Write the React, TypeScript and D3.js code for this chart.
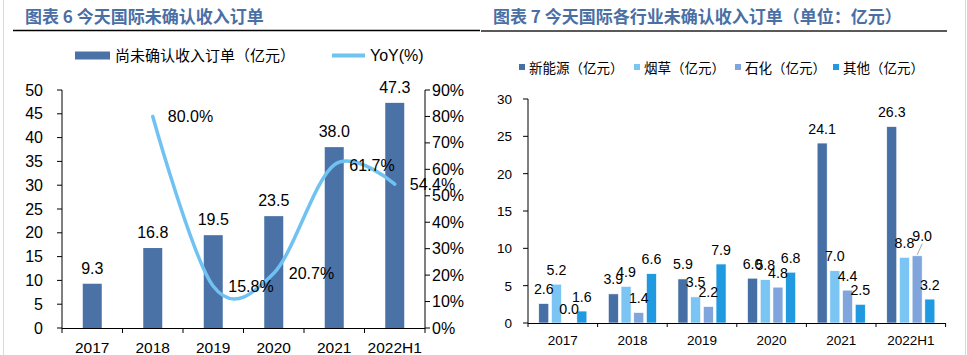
import React from "react";
import * as d3 from "d3";

const years = ["2017", "2018", "2019", "2020", "2021", "2022H1"];
const orders = [9.3, 16.8, 19.5, 23.5, 38.0, 47.3];
const yoyYears = ["2018", "2019", "2020", "2021", "2022H1"];
const yoy = [80.0, 15.8, 20.7, 61.7, 54.4];
const leftTicks = [0, 5, 10, 15, 20, 25, 30, 35, 40, 45, 50];
const rightPctTicks = [0, 10, 20, 30, 40, 50, 60, 70, 80, 90];

const industries = ["新能源（亿元）", "烟草（亿元）", "石化（亿元）", "其他（亿元）"];
const newEnergy = [2.6, 3.9, 5.9, 6.0, 24.1, 26.3];
const tobacco = [5.2, 4.9, 3.5, 5.8, 7.0, 8.8];
const petro = [0.0, 1.4, 2.2, 4.8, 4.4, 9.0];
const others = [1.6, 6.6, 7.9, 6.8, 2.5, 3.2];
const industryTicks = [0, 5, 10, 15, 20, 25, 30];

const BAR = "#4a72a6";
const LINE = "#70c2f2";
const COLORS = ["#4670a5", "#7ac5f3", "#7fa5dc", "#1f99e0"];
const TITLE = "#4a6fa5";
const CJK = "'Noto Sans CJK SC', sans-serif";
const LAT = "'Liberation Sans', Arial, sans-serif";

function LeftChart() {
  const x = d3.scaleBand<string>().domain(years).range([62, 425]).padding(0);
  const y = d3.scaleLinear().domain([0, 50]).range([328, 90]);
  const y2 = d3.scaleLinear().domain([0, 90]).range([328, 90]);
  const cx = (c: string) => (x(c) as number) + x.bandwidth() / 2;
  const line = d3
    .line<number>()
    .x((_, i) => cx(yoyYears[i]))
    .y((d) => y2(d))
    .curve(d3.curveCatmullRom.alpha(0));
  const bounds = [...years.map((c) => x(c) as number), 425];
  return (
    <g>
      <text x={25} y={23} fontFamily={CJK} fontWeight={700} fontSize={17} fill={TITLE}>
        图表 6 今天国际未确认收入订单
      </text>
      <line x1={13} x2={480} y1={30.5} y2={30.5} stroke="#000" strokeWidth={1.5} />
      {/* legend */}
      <rect x={75} y={51.5} width={35} height={8} fill={BAR} />
      <text x={115} y={60.5} fontFamily={CJK} fontSize={15} fill="#000">
        尚未确认收入订单（亿元）
      </text>
      <line x1={332} x2={365} y1={55.5} y2={55.5} stroke={LINE} strokeWidth={4} />
      <text x={370} y={61} fontFamily={LAT} fontSize={16} fill="#000">
        YoY(%)
      </text>
      {/* bars */}
      {orders.map((v, i) => (
        <g key={years[i]}>
          <rect x={cx(years[i]) - 9.5} y={y(v)} width={19} height={y(0) - y(v)} fill={BAR} />
          <text x={cx(years[i])} y={y(v) - 10} textAnchor="middle" fontFamily={LAT} fontSize={16}>
            {v.toFixed(1)}
          </text>
        </g>
      ))}
      {/* axes */}
      <line x1={62} x2={62} y1={90} y2={328} stroke="#000" />
      <line x1={425} x2={425} y1={90} y2={328} stroke="#000" />
      <line x1={62} x2={425} y1={328.5} y2={328.5} stroke="#000" />
      {leftTicks.map((t) => (
        <g key={t}>
          <line x1={57} x2={62} y1={y(t)} y2={y(t)} stroke="#000" />
          <text x={43} y={y(t) + 5.5} textAnchor="end" fontFamily={LAT} fontSize={16}>
            {t}
          </text>
        </g>
      ))}
      {rightPctTicks.map((t) => (
        <g key={t}>
          <line x1={425} x2={430} y1={y2(t)} y2={y2(t)} stroke="#000" />
          <text x={432} y={y2(t) + 5.5} fontFamily={LAT} fontSize={16}>
            {t}%
          </text>
        </g>
      ))}
      {bounds.map((b, i) => (
        <line key={i} x1={b} x2={b} y1={328} y2={333} stroke="#000" />
      ))}
      {years.map((c) => (
        <text key={c} x={cx(c)} y={353} textAnchor="middle" fontFamily={LAT} fontSize={15.5}>
          {c}
        </text>
      ))}
      {/* line */}
      <path d={line(yoy) || ""} fill="none" stroke={LINE} strokeWidth={3.5} strokeLinecap="round" />
      {yoy.map((v, i) => (
        <text key={i} x={cx(yoyYears[i]) + 15} y={y2(v) + 6} fontFamily={LAT} fontSize={16}>
          {v.toFixed(1)}%
        </text>
      ))}
    </g>
  );
}

function RightChart() {
  const x = d3.scaleBand<string>().domain(years).range([528, 945.6]).padding(0);
  const y = d3.scaleLinear().domain([0, 30]).range([323, 99]);
  const series = [newEnergy, tobacco, petro, others];
  const step = 12.7;
  const bw = 10;
  const cx = (c: string) => (x(c) as number) + x.bandwidth() / 2;
  const bounds = [...years.map((c) => x(c) as number), 945.6];
  const legendX = [519, 634, 735, 833];
  return (
    <g>
      <text x={493} y={23} fontFamily={CJK} fontWeight={700} fontSize={17} fill={TITLE}>
        图表 7 今天国际各行业未确认收入订单（单位：亿元）
      </text>
      <line x1={481} x2={947} y1={31} y2={31} stroke="#222" strokeWidth={1.5} />
      {industries.map((name, k) => (
        <g key={name}>
          <rect x={legendX[k]} y={64} width={6} height={6} fill={COLORS[k]} />
          <text x={legendX[k] + 10} y={72.5} fontFamily={CJK} fontSize={13.5}>
            {name}
          </text>
        </g>
      ))}
      {series.map((s, k) =>
        s.map((v, i) => {
          const bx = cx(years[i]) + (k - 1.5) * step;
          return (
            <rect
              key={`${k}-${i}`}
              x={bx - bw / 2}
              y={y(v)}
              width={bw}
              height={y(0) - y(v)}
              fill={COLORS[k]}
              stroke="#fff"
              strokeWidth={0.6}
            />
          );
        })
      )}
      {series.map((s, k) =>
        s.map((v, i) => {
          const bx = cx(years[i]) + (k - 1.5) * step;
          const shifted = k === 2 && i === 5;
          const lx = shifted ? bx + 5 : bx;
          const ly = shifted ? y(v) - 15 : y(v) - 9.5;
          return (
            <g key={`l${k}-${i}`}>
              {shifted && (
                <line x1={bx} y1={y(v) - 1} x2={bx + 5} y2={y(v) - 12} stroke="#a6a6a6" strokeWidth={1} />
              )}
              <text x={lx} y={ly} textAnchor="middle" fontFamily={LAT} fontSize={14.2}>
                {v.toFixed(1)}
              </text>
            </g>
          );
        })
      )}
      <line x1={528} x2={528} y1={99} y2={323} stroke="#000" />
      <line x1={528} x2={945.6} y1={323.5} y2={323.5} stroke="#000" />
      {industryTicks.map((t) => (
        <g key={t}>
          <line x1={523} x2={528} y1={y(t)} y2={y(t)} stroke="#000" />
          <text x={512} y={y(t) + 5} textAnchor="end" fontFamily={LAT} fontSize={13.5}>
            {t}
          </text>
        </g>
      ))}
      {bounds.map((b, i) => (
        <line key={i} x1={b} x2={b} y1={323} y2={327} stroke="#000" />
      ))}
      {years.map((c) => (
        <text key={c} x={cx(c)} y={345} textAnchor="middle" fontFamily={LAT} fontSize={13.5}>
          {c}
        </text>
      ))}
    </g>
  );
}

export default function App() {
  return (
    <div style={{ position: "absolute", left: 0, top: 0 }}>
      <svg width={967} height={355} style={{ display: "block", background: "#fff" }}>
        <rect x={0} y={0} width={967} height={355} fill="#fff" />
        <line x1={3.5} x2={3.5} y1={0} y2={355} stroke="#d9d9d9" />
        <line x1={965.5} x2={965.5} y1={0} y2={355} stroke="#d9d9d9" />
        <LeftChart />
        <RightChart />
      </svg>
    </div>
  );
}
